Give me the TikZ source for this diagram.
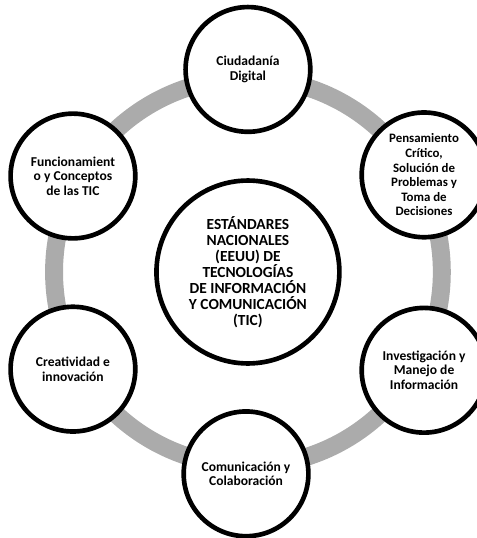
\documentclass[tikz,border=0pt]{standalone}
\usepackage{fontspec}
\setmainfont{Carlito}
\usetikzlibrary{arrows.meta}

\begin{document}
\begin{tikzpicture}[font=\bfseries\fontsize{10.2}{11}\selectfont]
    \useasboundingbox (-6.56,-7.038) rectangle (6.06,7.197);
    \tikzset{tema/.style={shape=circle,draw=black,line width=3.5pt,fill=white,minimum size=3.3cm,align=center,inner sep=0pt}}
    \coordinate (o) at (0,0);
    \draw[-, line width=13.5pt, color=black!33] (o) circle (5.13cm);
    \node[tema, minimum size=4.84cm, font=\bfseries\fontsize{11.6}{12.1}\selectfont] (c) at (o) {ESTÁNDARES\\NACIONALES\\(EEUU) DE\\TECNOLOGÍAS\\DE INFORMACIÓN\\Y COMUNICACIÓN\\(TIC)};
    \node[tema] (1) at (0,5.36) {Ciudadanía\\Digital};
    \node[tema, font=\bfseries\fontsize{9.7}{11}\selectfont] (2) at (4.66,2.57) {Pensamiento\\Crítico,\\Solución de\\Problemas y\\Toma de\\Decisiones};
    \node[tema] (3) at (4.66,-2.60) {Investigación y\\Manejo de\\Información};
    \node[tema] (4) at (-0.05,-5.34) {Comunicación y\\Colaboración};
    \node[tema] (5) at (-4.63,-2.57) {Creatividad e\\innovación};
    \node[tema] (6) at (-4.63,2.54) {Funcionamient\\o y Conceptos\\de las TIC};
\end{tikzpicture}
\end{document}
